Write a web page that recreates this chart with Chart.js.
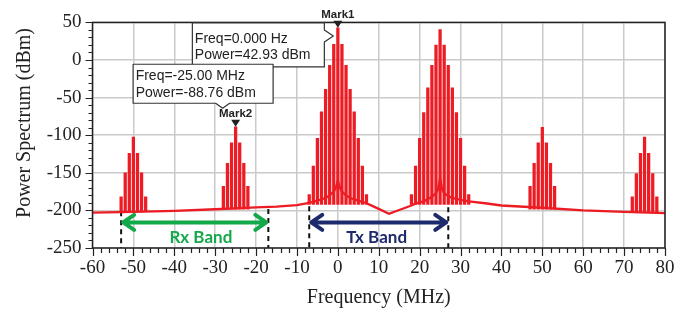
<!DOCTYPE html>
<html>
<head>
<meta charset="utf-8">
<script src="https://cdn.jsdelivr.net/npm/chart.js@4.4.0/dist/chart.umd.min.js"></script>
<style>
html,body{margin:0;padding:0;background:#fff;}
#wrap{width:700px;height:320px;}
</style>
</head>
<body>
<div id="wrap"><canvas id="spectrum" width="700" height="320"></canvas></div>
<script>
// axis tick labels
var xTicks = [-60,-50,-40,-30,-20,-10,0,10,20,30,40,50,60,70,80];
var yTicks = [-250,-200,-150,-100,-50,0,50];

// Tx carrier at 0 MHz and its copy at 25 MHz (15 lines each)
var txMainFreq  = [-7,-6,-5,-4,-3,-2,-1,0,1,2,3,4,5,6,7];
var txMainPower = [-179,-141,-104,-69,-39,-7,21,42.93,21,-7,-39,-69,-104,-141,-179];
var txSecFreq   = [18,19,20,21,22,23,24,25,26,27,28,29,30,31,32];
var txSecPower  = [-179,-141,-104,-70,-37,-7,20,40.5,20,-7,-37,-70,-104,-141,-179];

// smaller products (7 lines each)
var rxFarFreq   = [-53,-52,-51,-50,-49,-48,-47];
var rxFarPower  = [-182,-150,-124,-102.6,-124,-150,-182];
var rxNearFreq  = [-28,-27,-26,-25,-24,-23,-22];
var rxNearPower = [-168,-137.5,-110,-88.76,-110,-137.5,-168];
var upNearFreq  = [47,48,49,50,51,52,53];
var upNearPower = [-168,-137.5,-110,-89.7,-110,-137.5,-168];
var upFarFreq   = [72,73,74,75,76,77,78];
var upFarPower  = [-182,-151,-124,-102.6,-124,-151,-182];

// floor level each group of lines starts from
var groupFloor = [-192, -192, -201, -198.5, -198.5, -203];

// noise floor curve
var floorFreq  = [-60,-50,-40,-30,-20,-15,-10,-7,-5,-3,-2,-1,-0.5,0,0.5,1,2,3,5,7,8,10,12.5,15,17.5,19,21,22,23,24,24.5,25,25.5,26,27,28,30,32,36,40,50,60,70,80];
var floorPower = [-203,-202,-200.5,-198.5,-196,-195,-193,-190,-187,-183.5,-180,-175,-170,-160,-170,-175,-180,-183.5,-187,-190.5,-193,-198,-204.5,-199.5,-194.5,-191,-188,-185,-182,-177,-172,-157,-172,-177,-181,-183.5,-186,-188,-190.5,-193.5,-196.5,-200,-202,-203.5];

// markers
var markName  = ['Mark1','Mark2'];
var markFreq  = [0, -25];
var markPower = [42.93, -88.76];
var markFreqText = ['0.000 Hz', '-25.00 MHz'];

// bands
var bandName  = ['Rx Band','Tx Band'];
var bandStart = [-53, -7];
var bandEnd   = [-17, 27];
var bandEdgeTop = [[-201, -198.3], [-194.4, -184]];
var bandLabelAt = [-33.5, 9.5];
var bandColor = ['#13a84a', '#1d2a6b'];

var RED = '#ed1c24';

function spikes(freq, power, base){
    return freq.map(function(f, i){ return {x: f, y: [base, power[i]]}; });
}

var spikeData = [].concat(
    spikes(txMainFreq, txMainPower, groupFloor[0]),
    spikes(txSecFreq, txSecPower, groupFloor[1]),
    spikes(rxFarFreq, rxFarPower, groupFloor[2]),
    spikes(rxNearFreq, rxNearPower, groupFloor[3]),
    spikes(upNearFreq, upNearPower, groupFloor[4]),
    spikes(upFarFreq, upFarPower, groupFloor[5])
);

var datasets = [{
    type: 'line',
    label: 'floor',
    data: floorFreq.map(function(f, i){ return {x: f, y: floorPower[i]}; }),
    borderColor: RED,
    borderWidth: 2.3,
    pointRadius: 0,
    tension: 0,
    order: 0
}, {
    type: 'bar',
    label: 'lines',
    data: spikeData,
    backgroundColor: RED,
    barThickness: 2.6,
    grouped: false,
    order: 1
}];

// dashed band edges
bandStart.forEach(function(s, b){
    [s, bandEnd[b]].forEach(function(e, k){
        datasets.push({
            type: 'line',
            label: 'edge',
            data: [{x: e, y: bandEdgeTop[b][k]}, {x: e, y: -250}],
            borderColor: '#111',
            borderWidth: 2,
            borderDash: [5, 4],
            pointRadius: 0,
            order: 2
        });
    });
});

var decor = {
    id: 'decor',
    afterDraw: function(chart){
        var ctx = chart.ctx;
        var a = chart.chartArea;
        var xs = chart.scales.x, ys = chart.scales.y;
        ctx.save();

        // frame
        ctx.strokeStyle = '#222';
        ctx.lineWidth = 1.5;
        ctx.strokeRect(a.left, a.top, a.right - a.left, a.bottom - a.top);

        // outside tick marks
        ctx.beginPath();
        for (var v = -250; v <= 50; v += 10){
            var y = Math.round(ys.getPixelForValue(v)) + 0.5;
            var len = (v % 50 === 0) ? 7 : 4;
            ctx.moveTo(a.left - len, y);
            ctx.lineTo(a.left, y);
        }
        for (var f = -60; f <= 80; f += 2){
            var x = Math.round(xs.getPixelForValue(f)) + 0.5;
            var l2 = (f % 10 === 0) ? 8 : 5;
            ctx.moveTo(x, a.bottom);
            ctx.lineTo(x, a.bottom + l2);
        }
        ctx.lineWidth = 1.2;
        ctx.stroke();

        // y title
        ctx.save();
        ctx.translate(25, 123);
        ctx.rotate(-Math.PI / 2);
        ctx.fillStyle = '#222';
        ctx.font = '20px "Liberation Serif"';
        ctx.textAlign = 'center';
        ctx.textBaseline = 'middle';
        ctx.fillText('Power Spectrum (dBm)', 0, 0);
        ctx.restore();

        // bands: arrows + labels
        var ay = ys.getPixelForValue(-216);
        bandName.forEach(function(name, b){
            var x1 = xs.getPixelForValue(bandStart[b]) + 2;
            var x2 = xs.getPixelForValue(bandEnd[b]) - 2;
            ctx.strokeStyle = bandColor[b];
            ctx.lineWidth = 4;
            ctx.lineCap = 'round';
            ctx.lineJoin = 'round';
            ctx.beginPath();
            ctx.moveTo(x1 + 2, ay); ctx.lineTo(x2 - 2, ay);
            ctx.moveTo(x1 + 11, ay - 7.5); ctx.lineTo(x1, ay); ctx.lineTo(x1 + 11, ay + 7.5);
            ctx.moveTo(x2 - 11, ay - 7.5); ctx.lineTo(x2, ay); ctx.lineTo(x2 - 11, ay + 7.5);
            ctx.stroke();
            ctx.fillStyle = bandColor[b];
            ctx.font = 'bold 17px Lato';
            ctx.textAlign = 'center';
            ctx.textBaseline = 'middle';
            ctx.fillText(name, xs.getPixelForValue(bandLabelAt[b]), ay + 15);
        });

        // markers
        markName.forEach(function(name, m){
            var px = xs.getPixelForValue(markFreq[m]);
            var py = ys.getPixelForValue(markPower[m]);
            ctx.fillStyle = '#222';
            ctx.beginPath();
            ctx.moveTo(px - 4.5, py - 7);
            ctx.lineTo(px + 4.5, py - 7);
            ctx.lineTo(px, py);
            ctx.closePath();
            ctx.fill();
            ctx.font = 'bold 11.5px "Liberation Sans"';
            ctx.textAlign = 'center';
            ctx.textBaseline = 'alphabetic';
            ctx.fillText(name, px, py - 10);

            // info box
            var bx, by, bw, bh, notch, t1, t2;
            if (m === 0){
                bw = 132; bh = 44;
                bx = px - 13.5 - bw; by = a.top + 0.5;
                t1 = 20; t2 = 36;
            } else {
                bw = 140; bh = 39;
                bx = px - 102.5; by = py - 62.5;
                t1 = 16; t2 = 32.5;
            }
            ctx.beginPath();
            ctx.moveTo(bx, by);
            ctx.lineTo(bx + bw, by);
            if (m === 0){
                ctx.lineTo(bx + bw, by + 7);
                ctx.lineTo(bx + bw + 9, by + 13);
                ctx.lineTo(bx + bw, by + 19);
            }
            ctx.lineTo(bx + bw, by + bh);
            if (m === 1){
                ctx.lineTo(px - 6, by + bh);
                ctx.lineTo(px - 13, by + bh + 5);
                ctx.lineTo(px - 20, by + bh);
            }
            ctx.lineTo(bx, by + bh);
            ctx.closePath();
            ctx.fillStyle = '#fff';
            ctx.fill();
            ctx.strokeStyle = '#333';
            ctx.lineWidth = 1.2;
            ctx.lineCap = 'butt';
            ctx.stroke();
            ctx.fillStyle = '#222';
            ctx.font = '14px "Liberation Sans"';
            ctx.textAlign = 'left';
            ctx.fillText('Freq=' + markFreqText[m], bx + 2.5, by + t1);
            ctx.fillText('Power=' + markPower[m].toFixed(2) + ' dBm', bx + 2.5, by + t2);
        });

        ctx.restore();
    }
};

var ctx = document.getElementById('spectrum').getContext('2d');
var myChart = new Chart(ctx, {
    type: 'line',
    data: {datasets: datasets},
    options: {
        responsive: false,
        animation: false,
        layout: {padding: {left: 0, right: 35, top: 16, bottom: 0}},
        plugins: {
            legend: {display: false},
            tooltip: {enabled: false}
        },
        scales: {
            x: {
                type: 'linear',
                min: -60,
                max: 80,
                offset: false,
                afterBuildTicks: function(s){ s.ticks = xTicks.map(function(v){ return {value: v}; }); },
                afterFit: function(s){ s.height = 72; },
                grid: {color: '#cacaca', lineWidth: 1.5, drawTicks: false, offset: false},
                border: {display: false},
                ticks: {
                    font: {family: 'Liberation Serif', size: 19},
                    color: '#222',
                    padding: 9,
                    maxRotation: 0,
                    autoSkip: false
                },
                title: {
                    display: true,
                    text: 'Frequency (MHz)',
                    font: {family: 'Liberation Serif', size: 20},
                    color: '#222',
                    padding: {top: 0, bottom: 10}
                }
            },
            y: {
                type: 'linear',
                min: -250,
                max: 50,
                afterBuildTicks: function(s){ s.ticks = yTicks.map(function(v){ return {value: v}; }); },
                afterFit: function(s){ s.width = 92.5; },
                grid: {color: '#cacaca', lineWidth: 1.5, drawTicks: false},
                border: {display: false},
                ticks: {
                    font: {family: 'Liberation Serif', size: 19},
                    color: '#222',
                    padding: 11
                }
            }
        }
    },
    plugins: [decor]
});
</script>
</body>
</html>
